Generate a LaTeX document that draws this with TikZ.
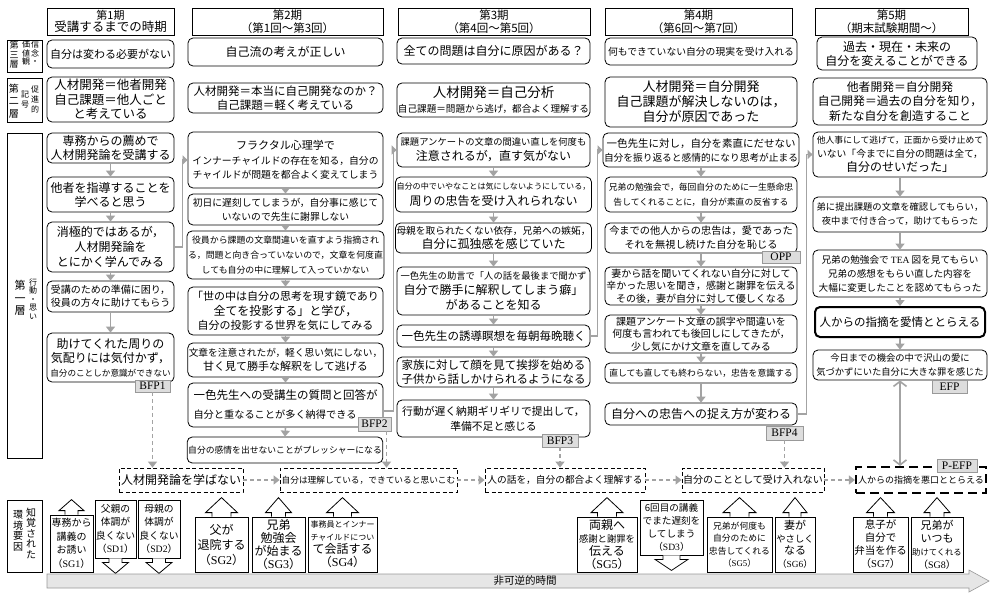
\documentclass[tikz,border=0pt]{standalone}
\usepackage{fontspec}
\setmainfont{Noto Sans CJK JP}
\newfontfamily\lat{Liberation Serif}
\usetikzlibrary{arrows.meta,calc}
\definecolor{arrg}{HTML}{A3A3A3}
\definecolor{lblfill}{HTML}{DDDDDD}
\definecolor{lbldraw}{HTML}{999999}
\definecolor{timefill}{HTML}{E6E6E6}
\newcommand\fzz[2]{\fontsize{#1}{#2}\selectfont}
\newcommand\szz[2]{{\fontsize{#1}{#1}\selectfont #2}}
\newcommand\mybx[7][]{%
  \pgfmathsetmacro\bxcx{(#3+#5)/2}%
  \pgfmathsetmacro\bxcy{(#4+#6)/2}%
  \pgfmathsetmacro\bxw{#5-#3}%
  \pgfmathsetmacro\bxh{#6-#4}%
  \node[rbox,minimum width=\bxw pt,minimum height=\bxh pt,#1] (#2) at (\bxcx,\bxcy) {#7};}
\newcommand\uparr[4]{\begin{scope}[shift={(#1.north)}]
  \draw[blk] (-#2,0) -- (-#2,-4) -- (-#3,-4) -- (0,-#4) -- (#3,-4) -- (#2,-4) -- (#2,0);
  \end{scope}}
\newcommand\dnarr[4]{\begin{scope}[shift={(#1.south)}]
  \draw[blk] (-#2,0) -- (-#2,4) -- (-#3,4) -- (0,#4) -- (#3,4) -- (#2,4) -- (#2,0);
  \end{scope}}
\tikzset{
  rbox/.style={draw, rounded corners=5pt, line width=0.8pt, align=center, inner sep=1pt},
  sbox/.style={sharp corners},
  dbox/.style={sharp corners, dash pattern=on 4pt off 2.5pt},
  lbl/.style={draw=lbldraw, fill=lblfill, sharp corners, line width=0.5pt, font=\lat\fzz{11.5}{12}, inner sep=0pt},
  vt/.style={align=center, inner sep=0pt},
  flow/.style={arrg, line width=1.6pt, -{Triangle[width=9pt,length=6pt]}},
  link/.style={arrg, line width=1.6pt, sharp corners, -{Triangle[width=9pt,length=5pt]}},
  dflow/.style={arrg, line width=1.3pt, dash pattern=on 4pt off 3pt, -{Triangle[width=9pt,length=6pt]}},
  blk/.style={draw=black, line width=0.8pt, fill=white, line join=miter},
}
\begin{document}
\begin{tikzpicture}[x=1pt,y=-1pt]
\fill[white] (0,0) rectangle (992,592);
\useasboundingbox (0,0) rectangle (992,592);

% ---------- left layer labels ----------
\mybx[sbox]{lab3}{7}{40}{42}{72}{}
\node[vt,font=\fzz{9}{9.5}] (lab3a) at (14,55) {第\\三\\層};
\node[vt,font=\fzz{8}{8.5}] (lab3b) at (26,53) {価\\値\\観};
\node[vt,font=\fzz{8}{8.5}] (lab3c) at (35,53) {信\\念\\・};
\mybx[sbox]{lab2}{7}{78}{42}{122}{}
\node[vt,font=\fzz{10}{12.5}] (lab2a) at (14,101) {第\\二\\層};
\node[vt,font=\fzz{8}{10}] (lab2b) at (25,100) {記\\号};
\node[vt,font=\fzz{8}{10}] (lab2c) at (35,99) {促\\進\\的};
\mybx[sbox]{lab1}{7}{133}{42}{458}{}
\node[vt,font=\fzz{11}{12.5}] (lab1a) at (20,298) {第\\一\\層};
\node[vt,font=\fzz{8}{8.5}] (lab1b) at (33,299) {行\\動\\・\\思\\い};
\mybx[sbox]{lab0}{7}{500}{42}{572}{}
\node[vt,font=\fzz{10}{10.5}] (lab0a) at (31,533) {知\\覚\\さ\\れ\\た};
\node[vt,font=\fzz{10}{10.5}] (lab0b) at (18,531) {環\\境\\要\\因};

% ---------- headers ----------
\mybx[sbox,font=\fzz{11}{12.5}]{h1}{47}{8}{174}{35}{第1期\\\szz{12.5}{受講するまでの時期}}
\mybx[sbox,font=\fzz{11.5}{12.5}]{h2}{192}{8}{383}{35}{第2期\\（第1回〜第3回）}
\mybx[sbox,font=\fzz{11.5}{12.5}]{h3}{398}{8}{590}{35}{第3期\\（第4回〜第5回）}
\mybx[sbox,font=\fzz{11.5}{12.5}]{h4}{605}{8}{792}{35}{第4期\\（第6回〜第7回）}
\mybx[sbox,font=\fzz{11.5}{12.5}]{h5}{815}{8}{968}{35}{第5期\\（期末試験期間〜）}

% ---------- third layer ----------
\mybx[font=\fzz{11}{13}]{t1}{47}{40}{174}{68}{自分は変わる必要がない}
\mybx[font=\fzz{12}{13}]{t2}{188}{38}{383}{66}{自己流の考えが正しい}
\mybx[font=\fzz{12}{13}]{t3}{397}{38}{590}{64}{全ての問題は自分に原因がある？}
\mybx[font=\fzz{9.8}{12}]{t4}{605}{38}{797}{65}{何もできていない自分の現実を受け入れる}
\mybx[font=\fzz{12}{14}]{t5}{817}{37}{977}{70}{過去・現在・未来の\\自分を変えることができる}

% ---------- second layer ----------
\mybx[font=\fzz{12.5}{14.5}]{s1}{47}{77}{174}{122}{人材開発＝他者開発\\自己課題＝他人ごと\\と考えている}
\mybx[font=\fzz{11.5}{13.5}]{s2}{188}{83}{383}{113}{人材開発＝本当に自己開発なのか？\\自己課題＝軽く考えている}
\mybx[font=\fzz{13.5}{15}]{s3}{397}{83}{590}{117}{人材開発＝自己分析\\\szz{9.6}{自己課題＝問題から逃げ，都合よく理解する}}
\mybx[font=\fzz{13}{15}]{s4}{605}{77}{797}{127}{人材開発＝自分開発\\自己課題が解決しないのは，\\自分が原因であった}
\mybx[font=\fzz{11.8}{14.5}]{s5}{813}{78}{987}{125}{他者開発＝自分開発\\自己開発＝過去の自分を知り，\\新たな自分を創造すること}

% ---------- first layer: column 1 ----------
\mybx[font=\fzz{12}{14}]{b1}{47}{133}{174}{163}{専務からの薦めで\\人材開発論を受講する}
\mybx[font=\fzz{12}{14}]{b2}{47}{177}{174}{212}{他者を指導することを\\学べると思う}
\mybx[font=\fzz{12}{15}]{b3}{47}{222}{174}{272}{消極的ではあるが，\\人材開発論を\\とにかく学んでみる}
\mybx[font=\fzz{10}{13}]{b4}{47}{281}{174}{312}{受講のための準備に困り，\\役員の方々に助けてもらう}
\mybx[font=\fzz{12}{14}]{b5}{47}{333}{174}{382}{助けてくれた周りの\\気配りには気付かず，\\\szz{8.6}{自分のことしか意識ができない}}

% ---------- column 2 ----------
\mybx[font=\fzz{11}{14.5}]{c1}{188}{132}{383}{188}{フラクタル心理学で\\\szz{9.8}{インナーチャイルドの存在を知る，自分の}\\\szz{9.8}{チャイルドが問題を都合よく変えてしまう}}
\mybx[font=\fzz{9.8}{14}]{c2}{188}{194}{383}{225}{初日に遅刻してしまうが，自分事に感じて\\いないので先生に謝罪しない}
\mybx[font=\fzz{8.9}{15}]{c3}{188}{231}{383}{279}{役員から課題の文章間違いを直すよう指摘され\\る，問題と向き合っていないので，文章を何度直\\しても自分の中に理解して入っていかない}
\mybx[font=\fzz{11}{14.5}]{c4}{188}{287}{383}{335}{「世の中は自分の思考を現す鏡であり\\\szz{12}{全てを投影する」と学び，}\\自分の投影する世界を気にしてみる}
\mybx[font=\fzz{9.7}{14}]{c5}{188}{343}{383}{377}{文章を注意されたが，軽く思い気にしない，\\\szz{11}{甘く見て勝手な解釈をして逃げる}}
\mybx[font=\fzz{11.5}{19},align=left]{c6}{188}{383}{383}{427}{一色先生への受講生の質問と回答が\\\szz{10.2}{自分と重なることが多く納得できる}}
\mybx[font=\fzz{8.8}{11}]{c7}{190}{437}{380}{463}{自分の感情を出せないことがプレッシャーになる}

% ---------- column 3 ----------
\mybx[font=\fzz{12}{15}]{d1}{397}{133}{590}{167}{\szz{9.3}{課題アンケートの文章の間違い直しを何度も}\\注意されるが，直す気がない}
\mybx[font=\fzz{12}{16}]{d2}{397}{177}{590}{212}{\szz{8.1}{自分の中でいやなことは気にしないようにしている，}\\周りの忠告を受け入れられない}
\mybx[font=\fzz{12}{14.5}]{d3}{397}{223}{590}{253}{\szz{9.7}{母親を取られたくない依存，兄弟への嫉妬，}\\自分に孤独感を感じていた}
\mybx[font=\fzz{12}{15}]{d4}{397}{267}{590}{315}{\szz{9.3}{一色先生の助言で「人の話を最後まで聞かず}\\自分で勝手に解釈してしまう癖」\\があることを知る}
\mybx[font=\fzz{11.5}{13}]{d5}{397}{325}{590}{347}{一色先生の誘導瞑想を毎朝毎晩聴く}
\mybx[font=\fzz{11.5}{14}]{d6}{397}{357}{590}{387}{家族に対して顔を見て挨拶を始める\\子供から話しかけられるようになる}
\mybx[font=\fzz{10.8}{15}]{d7}{397}{400}{590}{437}{行動が遅く納期ギリギリで提出して，\\準備不足と感じる}

% ---------- column 4 ----------
\mybx[font=\fzz{9.7}{14}]{e1}{605}{133}{797}{167}{\szz{10.5}{一色先生に対し，自分を素直にだせない}\\自分を振り返ると感情的になり思考が止まる}
\mybx[font=\fzz{8.8}{15}]{e2}{605}{177}{797}{212}{兄弟の勉強会で，毎回自分のために一生懸命忠\\告してくれることに，自分が素直の反省する}
\mybx[font=\fzz{10.2}{14}]{e3}{605}{223}{797}{253}{今までの他人からの忠告は，愛であった\\それを無視し続けた自分を恥じる}
\mybx[font=\fzz{10}{12.5}]{e4}{605}{267}{797}{305}{妻から話を聞いてくれない自分に対して\\辛かった思いを聞き，感謝と謝罪を伝える\\その後，妻が自分に対して優しくなる}
\mybx[font=\fzz{10}{12.5}]{e5}{605}{315}{797}{353}{課題アンケート文章の誤字や間違いを\\何度も言われても後回しにしてきたが，\\少し気にかけ文章を直してみる}
\mybx[font=\fzz{8.8}{11}]{e6}{605}{363}{797}{383}{直しても直しても終わらない，忠告を意識する}
\mybx[font=\fzz{12}{13}]{e7}{605}{403}{797}{425}{自分への忠告への捉え方が変わる}

% ---------- column 5 ----------
\mybx[font=\fzz{12}{14}]{f1}{813}{132}{987}{177}{\szz{8.8}{他人事にして逃げて，正面から受け止めて}\\\szz{9.8}{いない「今までに自分の問題は全て，}\\自分のせいだった」}
\mybx[font=\fzz{9.3}{14}]{f2}{813}{197}{987}{232}{弟に提出課題の文章を確認してもらい，\\夜中まで付き合って，助けてもらった}
\mybx[font=\fzz{9.6}{14}]{f3}{813}{250}{987}{297}{兄弟の勉強会で {\lat TEA} 図を見てもらい\\兄弟の感想をもらい直した内容を\\大幅に変更したことを認めてもらった}
\mybx[font=\fzz{11.5}{13},line width=2pt]{f4}{815}{307}{985}{337}{人からの指摘を愛情ととらえる}
\mybx[font=\fzz{9.3}{14}]{f5}{813}{350}{987}{380}{今日までの機会の中で沢山の愛に\\気づかずにいた自分に大きな罪を感じた}

% ---------- dashed row ----------
\mybx[dbox,font=\fzz{12}{13}]{g1}{119}{468}{243}{492}{人材開発論を学ばない}
\mybx[dbox,font=\fzz{8.7}{11}]{g2}{280}{468}{457}{492}{自分は理解している，できていると思いこむ}
\mybx[dbox,font=\fzz{9.7}{11}]{g3}{485}{468}{645}{492}{人の話を，自分の都合よく理解する}
\mybx[dbox,font=\fzz{10}{11}]{g4}{682}{468}{824}{492}{自分のこととして受け入れない}
\mybx[dbox,font=\fzz{9}{11},line width=2.2pt,dash pattern=on 9pt off 5pt]{g5}{856}{467}{986}{493}{人からの指摘を悪口ととらえる}

% ---------- flow arrows within columns ----------
\foreach \a/\b in {b1/b2,b2/b3,b3/b4,b4/b5,
  c1/c2,c2/c3,c3/c4,c4/c5,c5/c6,c6/c7,
  d1/d2,d2/d3,d3/d4,d4/d5,d5/d6,d6/d7,
  e1/e2,e2/e3,e3/e4,e4/e5,e5/e6,e6/e7,
  f1/f2,f2/f3,f3/f4,f4/f5}
  \draw[flow] (\a.south) -- (\b.north);

% ---------- links between columns ----------
\draw[link] (b3.east) -- ++(8,0) |- (c1.west);
\draw[link] ([yshift=-6pt]c6.east) -- ++(10,0) |- (d1.west);
\draw[link] (d5.east) -- ++(7,0) |- (e1.west);
\draw[link] (e7.east) -- ++(9,0) |- (f1.west);

% ---------- labels ----------
\mybx[lbl]{bfp1}{135}{380}{170}{392}{BFP1}
\mybx[lbl]{bfp2}{358}{417}{391}{431}{BFP2}
\mybx[lbl]{bfp3}{542}{434}{578}{447}{BFP3}
\mybx[lbl]{bfp4}{766}{426}{803}{440}{BFP4}
\mybx[lbl]{opp}{762}{251}{800}{263}{OPP}
\mybx[lbl]{efp}{932}{380}{967}{393}{EFP}
\mybx[lbl]{pefp}{937}{459}{977}{472}{P-EFP}

% ---------- dashed arrows ----------
\draw[dflow] (bfp1.south) -- (bfp1.south |- g1.north);
\coordinate (bfp2d) at ([xshift=12pt]bfp2.south);
\draw[dflow] (bfp2d) -- (bfp2d |- g2.north);
\draw[dflow] (bfp3.south) -- (bfp3.south |- g3.north);
\draw[dflow] (bfp4.south) -- (bfp4.south |- g4.north);
\draw[dflow] (g1.east) -- (g2.west);
\draw[dflow] (g2.east) -- (g3.west);
\draw[dflow] (g3.east) -- (g4.west);
\draw[dflow] (g4.east) -- (g5.west);
\draw[arrg, line width=1.6pt, {Straight Barb[length=5pt,width=13pt]}-{Straight Barb[length=5pt,width=13pt]}] (f5.south) -- (f5.south |- g5.north);

% ---------- perceived environment ----------
\mybx[sbox,font=\fzz{10}{13.5}]{sg1}{50}{515}{93}{572}{専務から\\講義の\\お誘い\\（{\lat SG1}）}
\mybx[sbox,font=\fzz{9.8}{13.5},inner sep=0pt]{sd1}{95}{500}{136}{558}{父親の\\体調が\\良くない\\（{\lat SD1}）}
\mybx[sbox,font=\fzz{9.8}{13.5},inner sep=0pt]{sd2}{138}{500}{180}{558}{母親の\\体調が\\良くない\\（{\lat SD2}）}
\mybx[sbox,font=\fzz{12}{15}]{sg2}{195}{517}{248}{572}{父が\\退院する\\（{\lat SG2}）}
\mybx[sbox,font=\fzz{12}{13}]{sg3}{252}{517}{305}{572}{兄弟\\勉強会\\が始まる\\（{\lat SG3}）}
\mybx[sbox,font=\fzz{12}{13}]{sg4}{308}{517}{377}{572}{\szz{8}{事務員とインナー}\\\szz{8}{チャイルドについ}\\て会話する\\（{\lat SG4}）}
\mybx[sbox,font=\fzz{12}{13}]{sg5a}{577}{517}{637}{572}{両親へ\\\szz{9.3}{感謝と謝罪を}\\伝える\\（{\lat SG5}）}
\mybx[sbox,font=\fzz{9.6}{13}]{sd3}{640}{500}{703}{555}{6回目の講義\\でまた遅刻を\\してしまう\\（{\lat SD3}）}
\mybx[sbox,font=\fzz{8.8}{12.5},inner sep=0pt]{sg5b}{707}{517}{772}{572}{兄弟が何度も\\自分のために\\忠告してくれる\\（{\lat SG5}）}
\mybx[sbox,font=\fzz{11}{12.5},inner sep=0pt]{sg6}{775}{517}{815}{572}{妻が\\\szz{9.3}{やさしく}\\なる\\\szz{9.3}{（{\lat SG6}）}}
\mybx[sbox,font=\fzz{10.5}{13}]{sg7}{853}{517}{908}{572}{息子が\\自分で\\弁当を作る\\（{\lat SG7}）}
\mybx[sbox,font=\fzz{11}{13},inner sep=0pt]{sg8}{911}{517}{963}{572}{兄弟が\\いつも\\\szz{8.3}{助けてくれる}\\\szz{10}{（{\lat SG8}）}}

\uparr{sg1}{6.5}{12.5}{15}
\dnarr{sd1}{6.5}{13}{15}
\dnarr{sd2}{6.5}{13}{15}
\uparr{sg2}{9.5}{16}{19}
\uparr{sg3}{7}{13}{19}
\uparr{sg4}{9}{16}{19}
\uparr{sg5a}{9.5}{16}{19}
\dnarr{sd3}{8.5}{16.5}{15}
\uparr{sg5b}{9.5}{16.5}{19}
\uparr{sg6}{6}{12}{19}
\uparr{sg7}{7}{14}{19}
\uparr{sg8}{7}{13}{19}

% ---------- irreversible time ----------
\draw[fill=timefill, draw=lbldraw, line width=0.6pt]
  (47,574) -- (969,574) -- (969,570) -- (989,581) -- (969,592) -- (969,588) -- (47,588) -- cycle;
\node[font=\fzz{10.5}{11}, inner sep=0pt] (timelbl) at (525,581) {非可逆的時間};
\end{tikzpicture}
\end{document}
